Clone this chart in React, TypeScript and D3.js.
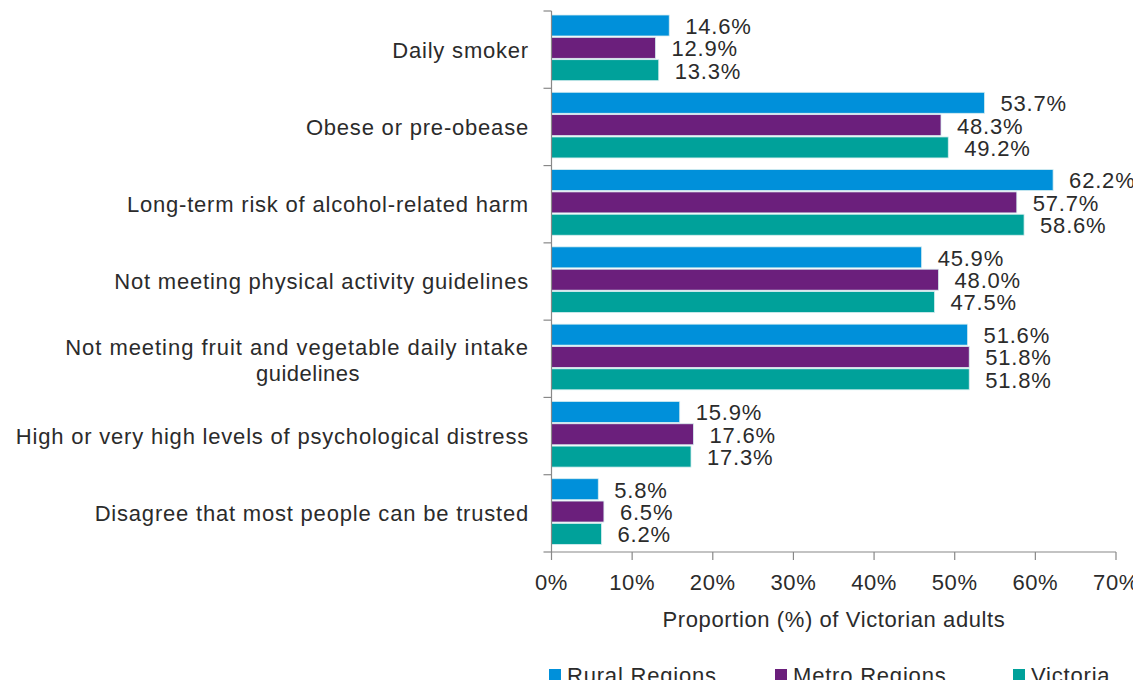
import React from 'react';
import * as d3 from 'd3';

const categories = [
  ['Daily smoker'],
  ['Obese or pre-obease'],
  ['Long-term risk of alcohol-related harm'],
  ['Not meeting physical activity guidelines'],
  ['Not meeting fruit and vegetable daily intake', 'guidelines'],
  ['High or very high levels of psychological distress'],
  ['Disagree that most people can be trusted'],
];
const seriesNames = ['Rural Regions', 'Metro Regions', 'Victoria'];
const rural = [14.6, 53.7, 62.2, 45.9, 51.6, 15.9, 5.8];
const metro = [12.9, 48.3, 57.7, 48.0, 51.8, 17.6, 6.5];
const victoria = [13.3, 49.2, 58.6, 47.5, 51.8, 17.3, 6.2];
const xTicks = [0, 10, 20, 30, 40, 50, 60, 70];
const colors = ['#0090da', '#6b1f7c', '#00a19a'];

const W = 1141;
const H = 688;
const FONT = '"Liberation Sans", Arial, sans-serif';
const TXT = '#2b2b2b';

export default function App() {
  const series = [rural, metro, victoria];
  const x = d3.scaleLinear().domain([0, 70]).range([551.5, 1116]);
  const y = d3
    .scaleBand<number>()
    .domain(categories.map((_, i) => i))
    .range([11, 552]);
  const bw = y.bandwidth();
  const barH = 22;
  const inner = d3
    .scaleBand<number>()
    .domain([0, 1, 2])
    .range([4, 4 + barH * 3 + 1]);

  const legendX = [549, 775, 1013];

  return (
    <div style={{ margin: -8 }}>
      <svg width={W} height={H} style={{ display: 'block', fontFamily: FONT }}>
        <rect x={26} y={0} width={8} height={2} fill="#7a3b8f" />
        {/* bars */}
        {categories.map((cat, i) => (
          <g key={i} transform={`translate(0,${y(i)})`}>
            {series.map((vals, s) => {
              const yy = inner(s)!;
              return (
                <g key={s}>
                  <rect
                    x={x(0)}
                    y={yy}
                    width={x(vals[i]) - x(0)}
                    height={barH - 1}
                    fill={colors[s]}
                    stroke="#d8eef0"
                    strokeWidth={0.8}
                  />
                  <text
                    x={x(vals[i]) + 16}
                    y={yy + barH / 2}
                    dy="0.36em"
                    fontSize={22}
                    letterSpacing={0.8}
                    fill={TXT}
                  >
                    {vals[i].toFixed(1)}%
                  </text>
                </g>
              );
            })}
            {cat.length === 1 ? (
              <text
                x={529}
                y={bw / 2}
                dy="0.36em"
                textAnchor="end"
                fontSize={22}
                letterSpacing={0.8}
                fill={TXT}
              >
                {cat[0]}
              </text>
            ) : (
              <g>
                <text
                  x={529}
                  y={bw / 2 - 12}
                  dy="0.36em"
                  textAnchor="end"
                  fontSize={22}
                  letterSpacing={0.95}
                  fill={TXT}
                >
                  {cat[0]}
                </text>
                <text
                  x={308}
                  y={bw / 2 + 14}
                  dy="0.36em"
                  textAnchor="middle"
                  fontSize={22}
                  letterSpacing={0.5}
                  fill={TXT}
                >
                  {cat[1]}
                </text>
              </g>
            )}
          </g>
        ))}
        {/* y axis */}
        <line x1={x(0)} x2={x(0)} y1={11} y2={552} stroke="#888" strokeWidth={1.2} />
        {categories.map((_, i) => (
          <line key={i} x1={x(0) - 8} x2={x(0)} y1={y(i)} y2={y(i)} stroke="#888" strokeWidth={1.2} />
        ))}
        <line x1={x(0) - 8} x2={x(0)} y1={552} y2={552} stroke="#888" strokeWidth={1.2} />
        {/* x axis */}
        <line x1={x(0)} x2={x(70)} y1={552} y2={552} stroke="#888" strokeWidth={1.2} />
        {xTicks.map((t) => (
          <g key={t}>
            <line x1={x(t)} x2={x(t)} y1={552} y2={560} stroke="#888" strokeWidth={1.2} />
            <text
              x={x(t)}
              y={582}
              dy="0.36em"
              textAnchor="middle"
              fontSize={22}
              letterSpacing={0.6}
              fill={TXT}
            >
              {t}%
            </text>
          </g>
        ))}
        <text x={834} y={619} dy="0.36em" textAnchor="middle" fontSize={22} letterSpacing={0.6} fill={TXT}>
          Proportion (%) of Victorian adults
        </text>
        {/* legend */}
        {seriesNames.map((n, s) => (
          <g key={n}>
            <rect x={legendX[s]} y={669} width={12} height={12} fill={colors[s]} />
            <text x={legendX[s] + 18} y={675} dy="0.36em" fontSize={22} letterSpacing={0.8} fill={TXT}>
              {n}
            </text>
          </g>
        ))}
      </svg>
    </div>
  );
}
